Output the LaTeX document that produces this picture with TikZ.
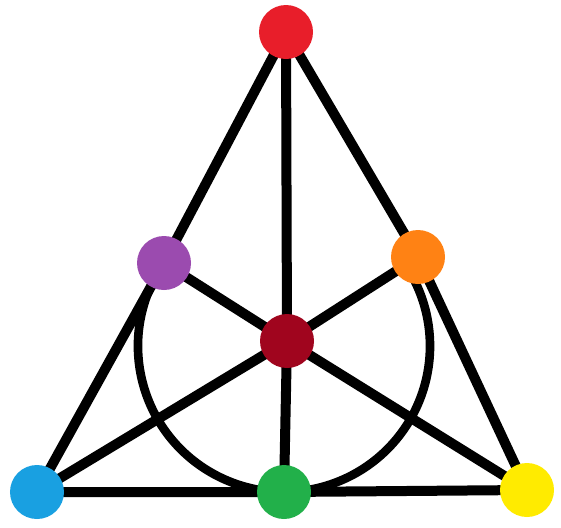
\documentclass[tikz,border=0pt]{standalone}
\begin{document}
\begin{tikzpicture}[x=0.03cm,y=-0.03cm,
  pt/.style={circle,inner sep=0pt,minimum size=1.62cm,fill=#1}]
\useasboundingbox (0,0) rectangle (561,527);
\definecolor{cRed}{RGB}{232,30,42}
\definecolor{cPurple}{RGB}{155,75,175}
\definecolor{cOrange}{RGB}{255,130,20}
\definecolor{cDark}{RGB}{160,5,30}
\definecolor{cBlue}{RGB}{25,160,225}
\definecolor{cGreen}{RGB}{34,176,74}
\definecolor{cYellow}{RGB}{255,235,0}
\coordinate (A) at (286,32);
\coordinate (P) at (164,263);
\coordinate (O) at (418,257);
\coordinate (C) at (287,341);
\coordinate (B) at (37,492);
\coordinate (G) at (284,492);
\coordinate (Y) at (527,490);
\coordinate (M) at (284,346);
\begin{scope}[line width=0.3cm,black]
\draw (A) -- (P) -- (B) -- (G) -- (Y) -- (O) -- (A);
\draw (A) -- (C) -- (G);
\draw (P) -- (C) -- (Y);
\draw (O) -- (C) -- (B);
\draw[line width=0.26cm] (M) ++(155:4.38cm) arc[start angle=155, end angle=388, radius=4.38cm];
\end{scope}
\node[pt=cRed] (a) at (A) {};
\node[pt=cPurple] (p) at (P) {};
\node[pt=cOrange] (o) at (O) {};
\node[pt=cDark] (c) at (C) {};
\node[pt=cBlue] (b) at (B) {};
\node[pt=cGreen] (g) at (G) {};
\node[pt=cYellow] (y) at (Y) {};
\end{tikzpicture}
\end{document}
